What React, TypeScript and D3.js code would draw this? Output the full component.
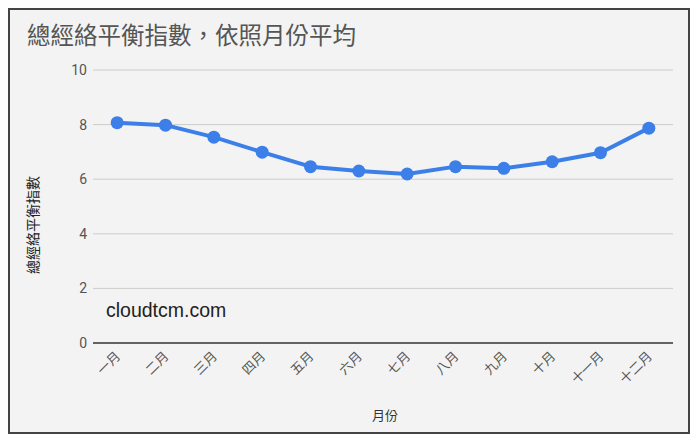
import React from "react";
import * as d3 from "d3";

const months = ["一月", "二月", "三月", "四月", "五月", "六月", "七月", "八月", "九月", "十月", "十一月", "十二月"];
const values = [8.07, 7.98, 7.54, 6.99, 6.46, 6.3, 6.19, 6.46, 6.4, 6.64, 6.97, 7.87];
const yTicks = [0, 2, 4, 6, 8, 10];
const title = "總經絡平衡指數，依照月份平均";
const yLabel = "總經絡平衡指數";
const xLabel = "月份";
const watermark = "cloudtcm.com";

const W = 700;
const H = 444;
const cjk = "'Noto Sans CJK TC', 'Noto Sans', sans-serif";

export default function App() {
  const x = d3.scaleBand<string>().domain(months).range([93, 673]);
  const y = d3.scaleLinear().domain([0, 10]).range([343, 70]);
  const line = d3
    .line<number>()
    .x((_, i) => (x(months[i]) as number) + x.bandwidth() / 2)
    .y((d) => y(d));

  return (
    <svg width={W} height={H} style={{ position: "absolute", left: 0, top: 0 }}>
      <rect x={0} y={0} width={W} height={H} fill="#ffffff" />
      <rect x={9} y={9} width={680} height={424} fill="#f3f3f3" stroke="#444" strokeWidth={2} />
      <text x={27} y={44} fontSize={23.5} fill="#555" fontFamily={cjk}>
        {title}
      </text>
      {yTicks.map((t) => (
        <g key={t}>
          {t !== 0 && (
            <line x1={93} x2={673} y1={y(t)} y2={y(t)} stroke="#cccccc" strokeWidth={1} />
          )}
          <text
            x={87}
            y={y(t)}
            dy="0.35em"
            textAnchor="end"
            fontSize={14}
            fill="#555"
            fontFamily="Roboto, sans-serif"
          >
            {t}
          </text>
        </g>
      ))}
      <line x1={93} x2={673} y1={y(0)} y2={y(0)} stroke="#333" strokeWidth={1.5} />
      <text
        x={106}
        y={317}
        fontSize={19.5}
        fill="#222"
        fontFamily="'Liberation Sans', Arial, sans-serif"
      >
        {watermark}
      </text>
      <path d={line(values) || ""} fill="none" stroke="#3d7fe8" strokeWidth={4} strokeLinejoin="round" />
      {values.map((v, i) => (
        <circle
          key={months[i]}
          cx={(x(months[i]) as number) + x.bandwidth() / 2}
          cy={y(v)}
          r={6.5}
          fill="#3d7fe8"
        />
      ))}
      {months.map((m) => {
        const cx = (x(m) as number) + x.bandwidth() / 2 + 4;
        const cy = 357;
        return (
          <text
            key={m}
            x={cx}
            y={cy}
            textAnchor="end"
            fontSize={13}
            fill="#555"
            fontFamily={cjk}
            transform={`rotate(-45 ${cx} ${cy})`}
          >
            {m}
          </text>
        );
      })}
      <text x={385} y={420} textAnchor="middle" fontSize={13} fill="#333" fontFamily={cjk}>
        {xLabel}
      </text>
      <text
        x={0}
        y={0}
        textAnchor="middle"
        fontSize={14}
        fill="#222"
        fontFamily={cjk}
        transform={`translate(38 ${225}) rotate(-90)`}
      >
        {yLabel}
      </text>
    </svg>
  );
}
